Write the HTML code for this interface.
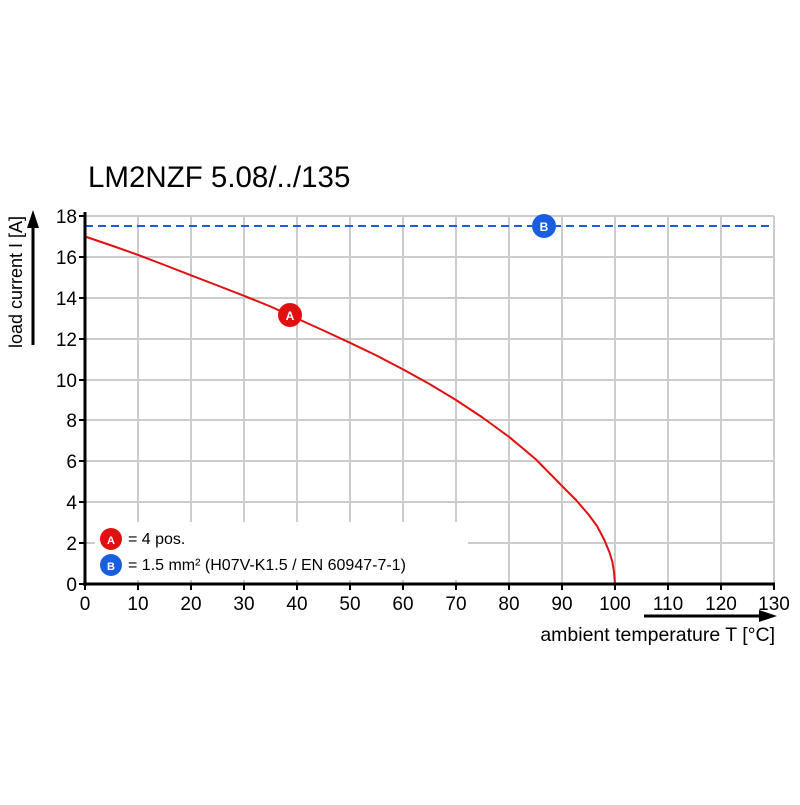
<!DOCTYPE html>
<html><head><meta charset="utf-8"><style>body{margin:0;background:#fff}</style></head><body>
<svg width="800" height="800" xmlns="http://www.w3.org/2000/svg" font-family="Liberation Sans, sans-serif">
<rect width="800" height="800" fill="#fff"/>
<text x="88" y="187" font-size="29.5" fill="#000">LM2NZF 5.08/../135</text>
<g stroke="#cccccc" stroke-width="2">
<line x1="138" y1="216" x2="138" y2="584"/><line x1="191" y1="216" x2="191" y2="584"/><line x1="244" y1="216" x2="244" y2="584"/><line x1="297" y1="216" x2="297" y2="584"/><line x1="350" y1="216" x2="350" y2="584"/><line x1="403" y1="216" x2="403" y2="584"/><line x1="456" y1="216" x2="456" y2="584"/><line x1="509" y1="216" x2="509" y2="584"/><line x1="562" y1="216" x2="562" y2="584"/><line x1="615" y1="216" x2="615" y2="584"/><line x1="668" y1="216" x2="668" y2="584"/><line x1="721" y1="216" x2="721" y2="584"/><line x1="774" y1="216" x2="774" y2="584"/>
<line x1="85" y1="216" x2="774" y2="216"/><line x1="85" y1="257" x2="774" y2="257"/><line x1="85" y1="298" x2="774" y2="298"/><line x1="85" y1="339" x2="774" y2="339"/><line x1="85" y1="380" x2="774" y2="380"/><line x1="85" y1="420" x2="774" y2="420"/><line x1="85" y1="461" x2="774" y2="461"/><line x1="85" y1="502" x2="774" y2="502"/><line x1="85" y1="543" x2="774" y2="543"/>
</g>
<rect x="95" y="522" width="373" height="58" fill="#fff"/>
<line x1="85" y1="226" x2="774" y2="226" stroke="#1a5ee0" stroke-width="2" stroke-dasharray="8,5"/>
<polyline fill="none" stroke="#e01010" stroke-width="2" stroke-linejoin="round" points="85,236.5 111.5,245.5 138,254.9 164.5,265 191,275.3 217.5,285.5 244,295.8 270.5,306.5 297,318.5 323.5,330.5 350,342.8 376.5,355.5 403,369.4 429.5,384 456,400 482.5,417.5 509,436.8 535.5,459 562,485.9 576,500 588.5,514.5 597,526 604.4,540 609.7,553 612.4,562 614,572 615,584"/>
<g stroke="#000" stroke-width="3"><line x1="85" y1="212" x2="85" y2="586"/><line x1="83" y1="584" x2="775" y2="584"/></g>
<g stroke="#000" stroke-width="2">
<line x1="79" y1="216" x2="85" y2="216"/><line x1="79" y1="257" x2="85" y2="257"/><line x1="79" y1="298" x2="85" y2="298"/><line x1="79" y1="339" x2="85" y2="339"/><line x1="79" y1="380" x2="85" y2="380"/><line x1="79" y1="420" x2="85" y2="420"/><line x1="79" y1="461" x2="85" y2="461"/><line x1="79" y1="502" x2="85" y2="502"/><line x1="79" y1="543" x2="85" y2="543"/><line x1="79" y1="584" x2="85" y2="584"/>
<line x1="85" y1="584" x2="85" y2="590"/><line x1="138" y1="584" x2="138" y2="590"/><line x1="191" y1="584" x2="191" y2="590"/><line x1="244" y1="584" x2="244" y2="590"/><line x1="297" y1="584" x2="297" y2="590"/><line x1="350" y1="584" x2="350" y2="590"/><line x1="403" y1="584" x2="403" y2="590"/><line x1="456" y1="584" x2="456" y2="590"/><line x1="509" y1="584" x2="509" y2="590"/><line x1="562" y1="584" x2="562" y2="590"/><line x1="615" y1="584" x2="615" y2="590"/><line x1="668" y1="584" x2="668" y2="590"/><line x1="721" y1="584" x2="721" y2="590"/><line x1="774" y1="584" x2="774" y2="590"/>
</g>
<g font-size="19" text-anchor="end" fill="#000">
<text x="77" y="223">18</text><text x="77" y="264">16</text><text x="77" y="305">14</text><text x="77" y="346">12</text><text x="77" y="387">10</text><text x="77" y="427">8</text><text x="77" y="468">6</text><text x="77" y="509">4</text><text x="77" y="550">2</text><text x="77" y="591">0</text>
</g>
<g font-size="19" text-anchor="middle" fill="#000">
<text x="85" y="610">0</text><text x="138" y="610">10</text><text x="191" y="610">20</text><text x="244" y="610">30</text><text x="297" y="610">40</text><text x="350" y="610">50</text><text x="403" y="610">60</text><text x="456" y="610">70</text><text x="509" y="610">80</text><text x="562" y="610">90</text><text x="615" y="610">100</text><text x="668" y="610">110</text><text x="721" y="610">120</text><text x="774" y="610">130</text>
</g>
<line x1="33" y1="345" x2="33" y2="225" stroke="#000" stroke-width="3"/>
<polygon points="33,210 27,228 39,228" fill="#000"/>
<text transform="translate(22,282) rotate(-90)" font-size="18" text-anchor="middle">load current I [A]</text>
<line x1="644" y1="616" x2="762" y2="616" stroke="#000" stroke-width="3"/>
<polygon points="777,616 759,610 759,622" fill="#000"/>
<text x="775" y="641" font-size="19.5" text-anchor="end">ambient temperature T [°C]</text>
<circle cx="290" cy="315" r="12" fill="#e01010"/><text x="290" y="320" font-size="12" font-weight="bold" fill="#fff" text-anchor="middle">A</text>
<circle cx="544" cy="226" r="12" fill="#1a5ee0"/><text x="544" y="231" font-size="12" font-weight="bold" fill="#fff" text-anchor="middle">B</text>
<circle cx="111" cy="539" r="11" fill="#e01010"/><text x="111" y="544" font-size="11" font-weight="bold" fill="#fff" text-anchor="middle">A</text>
<circle cx="111" cy="565" r="11" fill="#1a5ee0"/><text x="111" y="570" font-size="11" font-weight="bold" fill="#fff" text-anchor="middle">B</text>
<text x="128" y="544" font-size="16">= 4 pos.</text>
<text x="128" y="570" font-size="16">= 1.5 mm² (H07V-K1.5 / EN 60947-7-1)</text>
</svg>
</body></html>
